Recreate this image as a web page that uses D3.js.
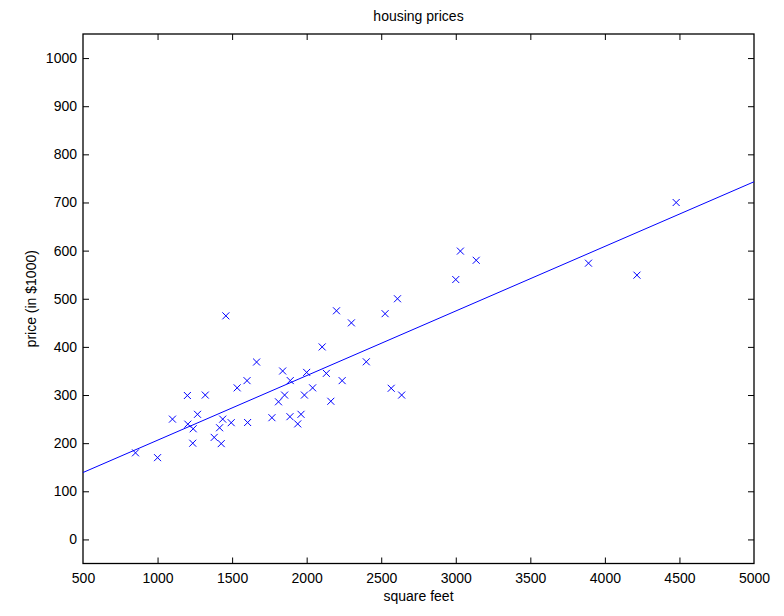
<!DOCTYPE html>
<html>
<head>
<meta charset="utf-8">
<script src="https://cdn.jsdelivr.net/npm/d3@7"></script>
<style>
  html, body { margin: 0; padding: 0; background: #fff; }
  text { font-family: "Liberation Sans", Arial, Helvetica, sans-serif; fill: #000; }
</style>
</head>
<body>
<div id="chart"></div>
<script>
// housing data: size in square feet, price in $1000
const sqft = [2104, 1600, 2400, 1416, 3000, 1985, 1534, 1427, 1380, 1494, 1940, 2000,
  1890, 4478, 1268, 2300, 1320, 1236, 2609, 3031, 1767, 1888, 1604, 1962, 3890, 1100,
  1458, 2526, 2200, 2637, 1839, 1000, 2040, 3137, 1811, 1437, 1239, 2132, 4215, 2162,
  1664, 2238, 2567, 1200, 852, 1852, 1203];
const price = [399.9, 329.9, 369, 232, 539.9, 299.9, 314.9, 199, 212, 242.5, 240, 347,
  330, 699.9, 259.9, 449.9, 299.9, 199.9, 500, 599, 252.9, 255, 242.9, 259.9, 573.9, 249.9,
  464.5, 469, 475, 299.9, 349.9, 169.9, 314.9, 579.9, 285.9, 249.9, 229.9, 345, 549, 287,
  368.5, 329.9, 314, 299, 179.9, 299.9, 239.5];
// fitted line, read at the two ends of the x range
const fitX = [500, 5000];
const fitY = [139, 743];
const xTicks = [500, 1000, 1500, 2000, 2500, 3000, 3500, 4000, 4500, 5000];
const yTicks = [0, 100, 200, 300, 400, 500, 600, 700, 800, 900, 1000];

const width = 784, height = 616;
const margin = { left: 83, right: 30, top: 34, bottom: 52.5 };

const svg = d3.select('#chart').append('svg')
  .attr('width', width)
  .attr('height', height);

const x = d3.scaleLinear().domain([500, 5000]).range([margin.left, width - margin.right]);
const y = d3.scaleLinear().domain([-50, 1050]).range([height - margin.bottom, margin.top]);

const tickLen = 6;
const fmt = d3.format('d');

// axes (ticks point inward, box style)
const gx = svg.append('g')
  .attr('transform', `translate(0,${y.range()[0]})`)
  .call(d3.axisBottom(x).tickValues(xTicks).tickSize(-tickLen).tickPadding(10).tickFormat(fmt));
const gxTop = svg.append('g')
  .attr('transform', `translate(0,${y.range()[1]})`)
  .call(d3.axisTop(x).tickValues(xTicks).tickSize(-tickLen).tickFormat(''));
const gy = svg.append('g')
  .attr('transform', `translate(${x.range()[0]},0)`)
  .call(d3.axisLeft(y).tickValues(yTicks).tickSize(-tickLen).tickPadding(6).tickFormat(fmt));
const gyRight = svg.append('g')
  .attr('transform', `translate(${x.range()[1]},0)`)
  .call(d3.axisRight(y).tickValues(yTicks).tickSize(-tickLen).tickFormat(''));

[gx, gxTop, gy, gyRight].forEach(g => {
  g.select('.domain').remove();
  g.selectAll('.tick line').attr('stroke', '#000').attr('stroke-width', 1);
  g.selectAll('.tick text').style('font-size', '14px').attr('fill', '#000');
});
// hide the end ticks lying on the box edges
gx.selectAll('.tick line').filter(d => d === 500 || d === 5000).remove();
gxTop.selectAll('.tick line').filter(d => d === 500 || d === 5000).remove();

svg.append('rect')
  .attr('x', x.range()[0])
  .attr('y', y.range()[1])
  .attr('width', x.range()[1] - x.range()[0])
  .attr('height', y.range()[0] - y.range()[1])
  .attr('fill', 'none')
  .attr('stroke', '#000')
  .attr('stroke-width', 1.3);

// regression line
const line = d3.line().x(d => x(d[0])).y(d => y(d[1]));
svg.append('path')
  .datum(d3.zip(fitX, fitY))
  .attr('d', line)
  .attr('fill', 'none')
  .attr('stroke', '#0000ff')
  .attr('stroke-width', 1);

// x markers
const s = 3.5;
svg.append('g')
  .selectAll('path')
  .data(d3.zip(sqft, price))
  .join('path')
  .attr('d', d => {
    const cx = x(d[0]), cy = y(d[1]);
    return `M${cx - s},${cy - s}L${cx + s},${cy + s}M${cx - s},${cy + s}L${cx + s},${cy - s}`;
  })
  .attr('stroke', '#0000ff')
  .attr('stroke-width', 1)
  .attr('fill', 'none');

const cx = (x.range()[0] + x.range()[1]) / 2;
svg.append('text')
  .attr('x', cx)
  .attr('y', 21)
  .attr('text-anchor', 'middle')
  .style('font-size', '14px')
  .text('housing prices');

svg.append('text')
  .attr('x', cx)
  .attr('y', 601)
  .attr('text-anchor', 'middle')
  .style('font-size', '14px')
  .text('square feet');

svg.append('text')
  .attr('transform', `translate(36,${(y.range()[0] + y.range()[1]) / 2}) rotate(-90)`)
  .attr('text-anchor', 'middle')
  .style('font-size', '14px')
  .text('price (in $1000)');
</script>
</body>
</html>
